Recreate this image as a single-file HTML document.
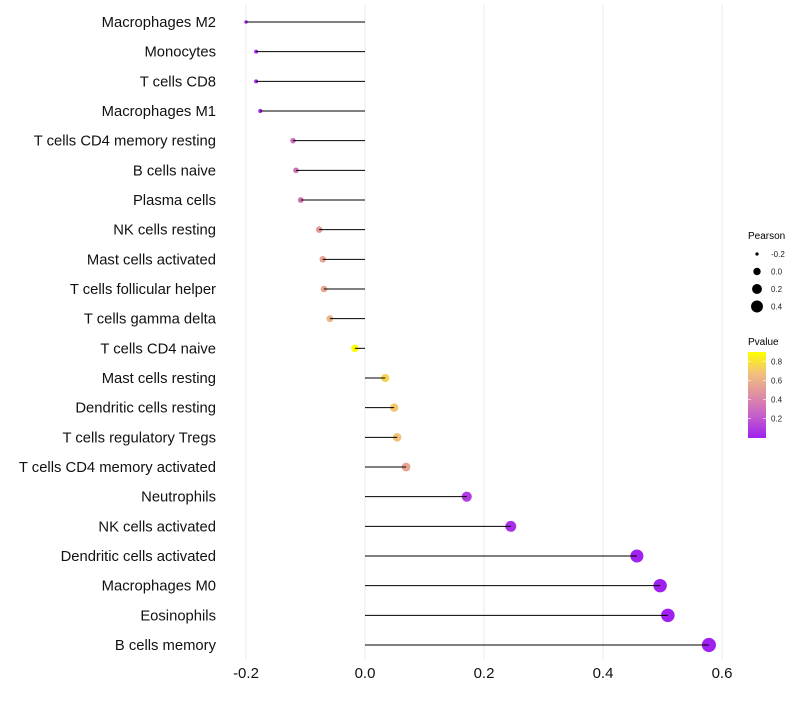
<!DOCTYPE html>
<html><head><meta charset="utf-8"><style>
body{margin:0;background:#fff;font-family:"Liberation Sans",sans-serif}
</style></head><body>
<svg id="chart" width="800" height="700" xmlns="http://www.w3.org/2000/svg" font-family="Liberation Sans, sans-serif">
<g id="grid"></g>
<g id="ylabels"></g>
<g id="marks"></g>
<g id="xticks"></g>
<g>
<text x="748" y="239" font-size="10">Pearson</text>
<g id="sizeLegend"></g>
</g>
<g>
<text x="748" y="345" font-size="10">Pvalue</text>
<defs><linearGradient id="pg" x1="0" y1="1" x2="0" y2="0">
<stop offset="0" stop-color="#a020f0"/><stop offset="0.25" stop-color="#c45dcc"/><stop offset="0.5" stop-color="#df8ea3"/><stop offset="0.75" stop-color="#f2c07c"/><stop offset="1" stop-color="#ffff00"/></linearGradient></defs>
<rect x="748" y="352" width="18" height="86" fill="url(#pg)"/>
<g id="colorTicks"></g>
</g>
</svg>
<script>
const categories=["Macrophages M2","Monocytes","T cells CD8","Macrophages M1","T cells CD4 memory resting","B cells naive","Plasma cells","NK cells resting","Mast cells activated","T cells follicular helper","T cells gamma delta","T cells CD4 naive","Mast cells resting","Dendritic cells resting","T cells regulatory  Tregs ","T cells CD4 memory activated","Neutrophils","NK cells activated","Dendritic cells activated","Macrophages M0","Eosinophils","B cells memory"];
const pearson=[-0.200,-0.183,-0.183,-0.176,-0.121,-0.116,-0.108,-0.077,-0.071,-0.069,-0.059,-0.017,0.034,0.049,0.054,0.069,0.171,0.245,0.457,0.496,0.509,0.578];
const pvalues=[0.01,0.03,0.03,0.04,0.30,0.32,0.35,0.50,0.55,0.56,0.62,0.90,0.75,0.70,0.68,0.55,0.10,0.05,0.003,0.001,0.001,0.0005];
const xTicks=[-0.2,0.0,0.2,0.4,0.6];
const xTickLabels=["-0.2","0.0","0.2","0.4","0.6"];
const sizeLegendVals=[-0.2,0.0,0.2,0.4];
const colorLegendVals=[0.2,0.4,0.6,0.8];
const NS="http://www.w3.org/2000/svg";
const xs=v=>365+v*595;
const ys=i=>22+i*(623/21);
const rs=v=>Math.sqrt(3+47*(v+0.2)/0.778);
const stops=[[0,[160,32,240]],[0.25,[196,93,204]],[0.5,[223,142,163]],[0.75,[242,192,124]],[1,[255,255,0]]];
function col(p){let t=Math.max(0,Math.min(1,p/0.9));for(let k=1;k<stops.length;k++){if(t<=stops[k][0]){const a=stops[k-1],b=stops[k],f=(t-a[0])/(b[0]-a[0]);return"rgb("+a[1].map((c,j)=>Math.round(c+(b[1][j]-c)*f)).join(",")+")";}}return"rgb(255,255,0)";}
function mk(tag,at,parent){const e=document.createElementNS(NS,tag);for(const k in at)e.setAttribute(k,at[k]);parent.appendChild(e);return e;}
const grid=document.getElementById('grid'),yl=document.getElementById('ylabels'),marks=document.getElementById('marks'),xt=document.getElementById('xticks');
xTicks.forEach((v,i)=>{
 const g=mk('line',{x1:xs(v),x2:xs(v),y1:5,y2:660,stroke:'#ebebeb','stroke-width':1},grid);
 
 
 const t=mk('text',{x:xs(v),y:678,'font-size':15,'text-anchor':'middle',fill:'#111'},xt);
 t.textContent=xTickLabels[i];
 
 
});
categories.forEach((c,i)=>{
 const y=ys(i);
 const t=mk('text',{x:216,y:y+5,'font-size':14.8,'text-anchor':'end',fill:'#111'},yl);
 t.textContent=c;
 
 
 const d=mk('circle',{cx:xs(pearson[i]),cy:y,r:rs(pearson[i]),fill:col(pvalues[i])},marks);
 
 
 const l=mk('line',{x1:xs(0),x2:xs(pearson[i]),y1:y,y2:y,stroke:'#000','stroke-width':1},marks);
 
 
});
const sl=document.getElementById('sizeLegend');
sizeLegendVals.forEach((v,i)=>{
 const y=254+i*17.5;
 const c=mk('circle',{cx:757,cy:y,r:rs(v)*0.95,fill:'#000'},sl);
 
 
 const t=mk('text',{x:771,y:y+3,'font-size':8,fill:'#222'},sl);
 t.textContent=v.toFixed(1);
 
 
});
const ct=document.getElementById('colorTicks');
colorLegendVals.forEach(v=>{
 const y=437.5-v/0.9*85.5;
 const l=mk('line',{x1:748,x2:751,y1:y,y2:y,stroke:'#fff','stroke-width':0.6},ct);
 
 
 const l2=mk('line',{x1:763,x2:766,y1:y,y2:y,stroke:'#fff','stroke-width':0.6},ct);
 
 
 const t=mk('text',{x:771,y:y+3,'font-size':8,fill:'#222'},ct);
 t.textContent=v.toFixed(1);
 
 
});
</script>
</body></html>
